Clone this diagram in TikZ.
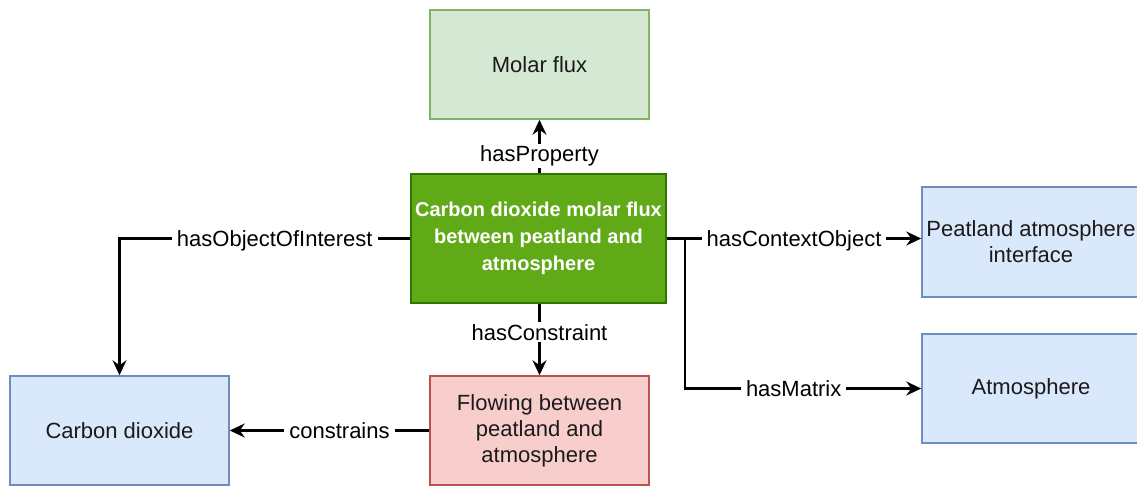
\documentclass[tikz,border=0pt]{standalone}
\usepackage{fontspec}
\setmainfont{Liberation Sans}
\usetikzlibrary{arrows.meta}
\definecolor{gfill}{HTML}{D5E8D4}
\definecolor{gline}{HTML}{82B366}
\definecolor{cfill}{HTML}{60A917}
\definecolor{cline}{HTML}{2D7600}
\definecolor{bfill}{HTML}{DAE8FC}
\definecolor{bline}{HTML}{6C8EBF}
\definecolor{rfill}{HTML}{F8CECC}
\definecolor{rline}{HTML}{B85450}
\definecolor{txt}{HTML}{1A1A1A}
\begin{document}
\begin{tikzpicture}[x=1pt,y=-1pt,
  box/.style={draw, line width=1.5pt, align=center, inner sep=2pt,
    minimum width=219pt, minimum height=109pt, text=txt,
    font=\fontsize{22}{26}\selectfont},
  green/.style={box, fill=gfill, draw=gline},
  blue/.style={box, fill=bfill, draw=bline},
  red/.style={box, fill=rfill, draw=rline},
  main/.style={box, fill=cfill, draw=cline, text=white,
    font=\fontsize{20}{27}\selectfont\bfseries, minimum width=255pt, minimum height=129pt},
  edge/.style={draw=black, line width=2.2pt, -{Stealth[length=15pt,width=14pt,inset=5pt]}},
  lbl/.style={fill=white, inner xsep=5pt, inner ysep=2pt, text=black, font=\fontsize{22}{26}\selectfont}
]
\useasboundingbox (0,0) rectangle (1137,486);
\clip (0,0) rectangle (1137,486);
\fill[white] (0,0) rectangle (1137,486);

\node[green] (molar) at (539.5,64.5) {Molar flux};
\node[main] (center) at (538.5,238.5) {Carbon dioxide molar flux\\between peatland and\\atmosphere};
\node[blue, minimum width=218pt, minimum height=110pt] (iface) at (1031,242) {Peatland atmosphere\\interface};
\node[blue, minimum width=218pt] (atm) at (1031,388.5) {Atmosphere};
\node[blue] (co2) at (119.5,430.5) {Carbon dioxide};
\node[red] (flow) at (539.5,430.5) {Flowing between\\peatland and\\atmosphere};

\coordinate (m) at (685,238.5);

\draw[edge] (center.north -| molar.south) -- node[lbl, pos=0.36, yshift=-2pt] {hasProperty} (molar.south);
\draw[edge] (center.west) -| node[lbl, pos=0.233, yshift=-2pt] {hasObjectOfInterest} (co2.north);
\draw[edge] (center.east) -- node[lbl, pos=0.5, yshift=-2pt] {hasContextObject} (center.east -| iface.west);
\draw[edge] (center.east) -- (m) |- node[lbl, pos=0.73] {hasMatrix} (atm.west);
\draw[edge] (center.south -| flow.north) -- node[lbl, pos=0.4] {hasConstraint} (flow.north);
\draw[edge] (flow.west) -- node[lbl, pos=0.45] {constrains} (co2.east);
\end{tikzpicture}
\end{document}
